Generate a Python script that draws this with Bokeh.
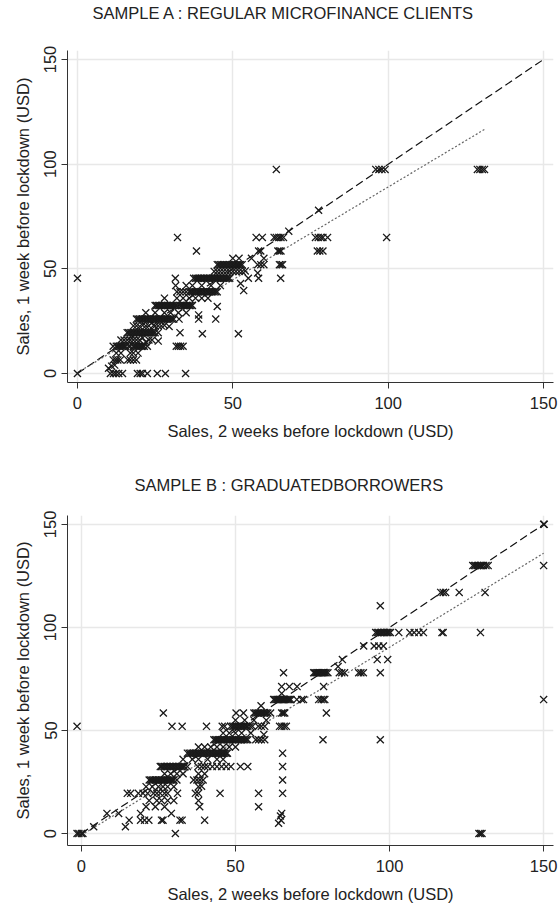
from bokeh.plotting import figure
from bokeh.layouts import column
from bokeh.models import Range1d, FixedTicker, Title
from bokeh.embed import file_html
from bokeh.resources import INLINE

# ---------------- data ----------------
a_pts = [
    (0, 0), (10.6, 0), (11.6, 0), (12.4, 0), (13.3, 0), (14.5, 0), (19.3, 0), (20.2, 0), (20.9, 0),
    (22.5, 0), (25.7, 0), (28.3, 0), (34.8, 0),
    (10, 2.5), (11, 3.5), (12, 4),
    (11.5, 6.5), (12.3, 6.5), (13, 6.5), (13.8, 6.5), (16.2, 6.5), (17, 6.5), (18, 6.5), (19, 6.5),
    (12.5, 9.75), (14, 9.75), (17, 9.75), (18, 9.75), (19.5, 9.75),
    (11.5, 13), (12.5, 13), (13, 13), (14, 13), (15, 13), (16.5, 13), (18, 13), (19, 13), (19.5, 13),
    (20.5, 13), (21.5, 13), (22.5, 13), (31.8, 13), (32.5, 13), (33.2, 13), (34, 13),
    (13.5, 13), (14.5, 13), (15.5, 13), (17, 13), (18.5, 13), (20, 13), (21, 13),
    (14, 16), (17, 16), (20, 16), (21, 17), (24, 16), (26, 15.5), (22, 15),
    (15, 16), (16, 16), (18, 16), (19, 16), (23, 16),
    (16, 19.5), (17, 19.5), (18, 19.5), (19, 19.5), (19.5, 19.5), (20, 19.5), (21, 19.5), (22, 19.5),
    (23, 19.5), (24, 19.5), (25, 19.5), (26, 19.5), (33, 19.5), (40.2, 19), (51.8, 19),
    (16.5, 19.5), (17.5, 19.5), (18.5, 19.5), (20.5, 19.5), (21.5, 19.5), (22.5, 19.5),
    (23.5, 19.5), (24.5, 19.5),
    (18, 22.75), (20, 22.5), (21, 23), (23, 22.75), (24.5, 23), (26, 22.75), (28, 23), (29.5, 22.5),
    (19, 22.75), (22, 22.75), (25, 22.75), (27, 22.75),
    (19, 26), (20, 26), (21, 26), (22, 26), (23, 26), (24, 26), (25, 26), (26, 26), (26.5, 26),
    (27, 26), (28, 26), (29, 26), (30, 26), (31, 26), (32.7, 26), (39, 26), (44.5, 26),
    (19.5, 26), (20.5, 26), (21.5, 26), (22.5, 26), (23.5, 26), (24.5, 26), (25.5, 26),
    (27.5, 26), (28.5, 26), (29.5, 26), (30.5, 26),
    (22, 29), (25, 29), (28, 29), (30, 29), (32.5, 29), (35, 29), (39, 28),
    (25, 32.5), (26, 32.5), (27.5, 32.5), (28.5, 32.5), (29.5, 32.5), (30, 32.5), (30.5, 32.5),
    (31, 32.5), (31.5, 32.5), (32, 32.5), (33, 32.5), (33.5, 32.5), (34, 32.5), (35, 32.5),
    (36, 32.5), (37, 32.5), (45, 32),
    (25.5, 32.5), (26.5, 32.5), (27, 32.5), (28, 32.5), (29, 32.5), (34.5, 32.5), (35.5, 32.5),
    (36.5, 32.5),
    (28, 36), (32, 36), (34, 36), (36, 36), (38, 36), (40, 36), (42, 36),
    (32, 39), (34, 39), (36, 39), (37, 39), (38, 39), (39, 39), (40, 39), (41, 39), (42, 39),
    (43, 39), (44, 39), (45, 39), (53.5, 39.6),
    (33, 39), (35, 39), (36.5, 39), (37.5, 39), (38.5, 39), (39.5, 39), (40.5, 39), (41.5, 39),
    (42.5, 39), (43.5, 39), (44.5, 39),
    (31.6, 42), (35, 42), (37, 42), (40, 42), (43, 42), (46, 42), (52.5, 43),
    (0, 45.5), (31.5, 45.5), (37.4, 45.5), (38, 45.5), (39, 45.5), (40, 45.5), (41, 45.5),
    (42, 45.5), (43, 45.5), (44, 45.5), (45, 45.5), (46, 45.5), (47, 45.5), (48, 45.5),
    (49, 45.5), (55, 45.5), (58.3, 45.5), (65.4, 45.5),
    (38.5, 45.5), (39.5, 45.5), (40.5, 45.5), (41.5, 45.5), (42.5, 45.5), (43.5, 45.5),
    (44.5, 45.5), (45.5, 45.5), (46.5, 45.5), (47.5, 45.5), (48.5, 45.5),
    (44, 48.75), (46, 48.75), (48, 48.75), (50, 48.75), (52, 48.75), (54, 49), (58, 48),
    (45, 48.75), (47, 48.75), (49, 48.75), (51, 48.75), (53, 48.75),
    (45, 52), (46, 52), (47, 52), (48, 52), (49, 52), (50, 52), (50.5, 52), (51, 52), (51.5, 52),
    (52, 52), (52.5, 52), (53, 52), (58, 52), (59, 52), (60, 52), (65, 52), (65.5, 52), (66, 52),
    (45.5, 52), (46.5, 52), (47.5, 52), (48.5, 52), (49.5, 52),
    (50, 55), (52, 55), (56, 55), (60, 55),
    (38.3, 58.5), (58.3, 58.5), (59, 58.5), (64.5, 58.5), (65, 58.5), (65.5, 58.5),
    (77.2, 58.5), (78, 58.5), (79, 58.5),
    (32.2, 65), (57.5, 65), (59.5, 65), (63.3, 65), (64, 65), (64.8, 65), (65.5, 65), (66.3, 65),
    (76.6, 65), (77.5, 65), (78.3, 65), (79, 65), (80.5, 65), (99.5, 65),
    (68, 68), (77.6, 78),
    (64, 97.5), (96, 97.5), (97, 97.5), (98, 97.5), (99, 97.5),
    (128.7, 97.5), (129.5, 97.5), (130.3, 97.5), (131, 97.5),
]

b_pts = [
    (-1.4, 0), (-0.8, 0), (0, 0), (0.5, 0), (30.5, 0), (129, 0), (129.5, 0), (130, 0),
    (4, 3.3), (14.3, 3.3),
    (15.5, 6.5), (19.2, 6.5), (20.5, 6.5), (21.9, 6.5), (26, 6.5), (26.5, 6.5), (32, 6.5),
    (32.7, 6.5), (40, 6.5), (64, 5), (64.8, 6.5),
    (8.3, 9.75), (12.1, 9.75), (19.2, 9.75), (29.2, 9.75), (64.6, 8.5), (65, 9.75),
    (21, 13), (24, 13), (27, 13), (38.4, 13), (57.5, 13),
    (22, 16), (24.5, 16), (26, 16), (28, 16), (30, 16), (38, 16),
    (14.9, 19.5), (16, 19.5), (18.5, 19.5), (20, 19.5), (21.5, 19.5), (23.4, 19.5), (24.5, 19.5),
    (25.6, 19.5), (27, 19.5), (28, 19.5), (31.2, 19.5), (37, 19.5), (38, 19.5), (45, 19.5),
    (57.5, 19.5), (65.3, 19.5),
    (21, 22.75), (23, 22.75), (25, 22.75), (26.5, 22.75), (28, 22.75), (30, 22.75), (38, 22.75),
    (39, 23),
    (22, 26), (23, 26), (24, 26), (25, 26), (26, 26), (27, 26), (28, 26), (29, 26), (30, 26),
    (31, 26), (36.4, 26), (37.5, 26), (38.5, 26), (39.5, 26), (65.3, 26),
    (22.5, 26), (23.5, 26), (24.5, 26), (25.5, 26), (26.5, 26), (27.5, 26), (28.5, 26), (29.5, 26),
    (27, 29), (29, 29), (31, 29), (33, 29), (38, 29), (40, 29),
    (25.6, 32.5), (27, 32.5), (28, 32.5), (29, 32.5), (30, 32.5), (31, 32.5), (32, 32.5),
    (33, 32.5), (34.4, 32.5), (37.8, 32.5), (39, 32.5), (40, 32.5), (41, 32.5), (42.5, 32.5),
    (44, 32.5), (45.5, 32.5), (47, 32.5), (48.5, 32.5), (51.6, 32.5), (54, 32.5), (65.3, 32.5),
    (26, 32.5), (26.5, 32.5), (27.5, 32.5), (28.5, 32.5), (29.5, 32.5), (30.5, 32.5),
    (31.5, 32.5), (32.5, 32.5), (33.5, 32.5),
    (33, 36), (36, 36), (38, 36), (41, 36), (44, 36), (46, 36),
    (34.4, 39), (35.5, 39), (36.5, 39), (37.5, 39), (38.5, 39), (39.5, 39), (40.5, 39),
    (41.5, 39), (42.5, 39), (43.5, 39), (44.5, 39), (45.5, 39), (46.5, 39), (47.4, 39), (65.3, 39),
    (35, 39), (36, 39), (37, 39), (38, 39), (39, 39), (40, 39), (41, 39), (42, 39), (43, 39),
    (44, 39), (45, 39), (46, 39), (47, 39),
    (38, 42), (40, 42), (42, 42), (44, 42), (46, 42), (48, 42), (50, 42),
    (43, 45.5), (44, 45.5), (45, 45.5), (46, 45.5), (47, 45.5), (48, 45.5), (49, 45.5),
    (50, 45.5), (51, 45.5), (52, 45.5), (53, 45.5), (54, 45.5), (56.6, 45.5), (57.5, 45.5),
    (58.4, 45.5), (59.5, 45.5), (78.4, 45.5), (97, 45.5),
    (43.5, 45.5), (44.5, 45.5), (45.5, 45.5), (46.5, 45.5), (47.5, 45.5), (48.5, 45.5),
    (49.5, 45.5), (50.5, 45.5), (51.5, 45.5), (52.5, 45.5), (53.5, 45.5),
    (46, 48.75), (48, 48.75), (50, 48.75), (52, 48.75), (55, 48.75), (59.2, 48),
    (-1.4, 52), (29.4, 52), (32.7, 52), (40.6, 52), (46.5, 52), (45.7, 52), (48.4, 52),
    (49.5, 52), (50.5, 52), (51.5, 52), (52.5, 52), (53.5, 52), (54.8, 52), (55.5, 52),
    (57.4, 52), (58.4, 52), (59.5, 52), (64.3, 52), (65, 52), (65.8, 52), (66.5, 52),
    (49, 52), (50, 52), (51, 52), (52, 52), (53, 52), (54, 52),
    (50, 55), (53, 55), (56, 55), (60, 55),
    (26.6, 58.5), (50.2, 58.5), (52.6, 58.5), (56, 58.5), (57, 58.5), (58, 58.5), (59, 58.5),
    (60, 58.5), (61.4, 58.5), (65, 58.5), (65.5, 58.5), (66, 58.5), (79.5, 58.5),
    (56.5, 58.5), (57.5, 58.5), (58.5, 58.5), (59.5, 58.5), (60.5, 58.5),
    (58.3, 62),
    (62.4, 65), (63.2, 65), (64, 65), (64.8, 65), (65.6, 65), (66.4, 65), (67.2, 65), (68, 65),
    (69.9, 65), (71.5, 65), (72.1, 65), (77, 65), (77.8, 65), (78.5, 65), (79, 65), (150, 65),
    (62.8, 65), (63.6, 65), (64.4, 65), (65.2, 65), (66, 65), (66.8, 65), (67.6, 65),
    (65, 68), (65, 71.3), (67.5, 71.3), (70, 71.3), (78.6, 71.3),
    (65.6, 78), (75.4, 78), (76.2, 78), (77, 78), (77.8, 78), (78.6, 78), (79.4, 78), (80, 78),
    (83.7, 78), (84.5, 78), (85.4, 78), (90, 78), (90.7, 78), (91.5, 78), (97, 78),
    (75.8, 78), (76.6, 78), (77.4, 78), (78.2, 78), (79, 78),
    (83.3, 81), (84.7, 84.4), (96, 84.4), (99.4, 84.4),
    (91.6, 91), (95, 91), (96.5, 91), (98, 91),
    (95.5, 97.5), (96.5, 97.5), (97.5, 97.5), (98.5, 97.5), (99.3, 97.5), (100.3, 97.5),
    (103, 97.5), (106.6, 97.5), (108, 97.5), (109.5, 97.5), (111, 97.5), (117, 97.5),
    (117.4, 97.5), (129.5, 97.5),
    (96, 97.5), (97, 97.5), (98, 97.5), (99, 97.5), (99.8, 97.5),
    (97, 110.5),
    (116.6, 117), (117.4, 117), (118.2, 117), (122.6, 117), (131, 117),
    (127, 130), (128, 130), (129, 130), (129.8, 130), (130.5, 130), (131.3, 130), (132, 130),
    (127.5, 130), (128.5, 130), (129.5, 130),
    (150, 130),
    (150, 150), (150.2, 150),
]

a_x = [p[0] for p in a_pts]
a_y = [p[1] for p in a_pts]
b_x = [p[0] for p in b_pts]
b_y = [p[1] for p in b_pts]

# 45-degree reference line and fitted lines
a_diag_x = [0, 150]
a_diag_y = [0, 150]
a_fit_x = [0, 131]
a_fit_y = [0.4, 116.6]
b_diag_x = [0, 150]
b_diag_y = [0, 150]
b_fit_x = [0, 150]
b_fit_y = [-0.8, 136]

ticks = [0, 50, 100, 150]
titles = ["SAMPLE A : REGULAR MICROFINANCE CLIENTS", "SAMPLE B : GRADUATEDBORROWERS"]
x_label = "Sales, 2 weeks before lockdown (USD)"
y_label = "Sales, 1 week before lockdown (USD)"

FONT = "Liberation Sans"
TXT = "#222222"
FS = "16.5px"


def make(title, xs, ys, dx, dy, fx, fy, xr, yr, height, top, bottom, offset, gap):
    p = figure(width=560, height=height, output_backend="svg", toolbar_location=None,
               title=None,
               x_range=Range1d(*xr), y_range=Range1d(*yr),
               min_border_left=67, min_border_right=7,
               min_border_top=top, min_border_bottom=bottom)
    # spacer between frame and title (first added = closest to frame)
    p.add_layout(Title(text=" ", text_font_size="1px", standoff=gap), "above")
    p.add_layout(Title(text=title, align="left", offset=offset, standoff=0,
                       vertical_align="bottom", text_font=FONT, text_font_size=FS,
                       text_font_style="normal", text_color=TXT), "above")
    p.outline_line_color = None
    p.background_fill_color = "white"
    for g in (p.xgrid, p.ygrid):
        g.ticker = FixedTicker(ticks=ticks)
        g.grid_line_color = "#e8e8e8"
        g.grid_line_width = 1.5
    for ax in (p.xaxis, p.yaxis):
        ax.ticker = FixedTicker(ticks=ticks)
        ax.minor_tick_line_color = None
        ax.major_tick_out = 6
        ax.major_tick_in = 0
        ax.axis_line_color = "#333333"
        ax.major_tick_line_color = "#333333"
        ax.major_label_text_font = FONT
        ax.major_label_text_font_size = FS
        ax.major_label_text_color = TXT
        ax.axis_label_text_font = FONT
        ax.axis_label_text_font_size = FS
        ax.axis_label_text_font_style = "normal"
        ax.axis_label_text_color = TXT
    p.xaxis.axis_label = x_label
    p.yaxis.axis_label = y_label
    p.xaxis.major_label_standoff = 8
    p.xaxis.axis_label_standoff = 10
    p.yaxis.major_label_orientation = "vertical"
    p.yaxis.major_label_standoff = 5
    p.yaxis.axis_label_standoff = 10

    p.line(dx, dy, line_color="#111111", line_width=1.2, line_dash="8 4")
    p.line(fx, fy, line_color="#666666", line_width=1.2, line_dash="2 2")
    p.scatter(xs, ys, marker="x", size=10, line_color="#1a1a1a", line_width=1.3)
    return p


p1 = make(titles[0], a_x, a_y, a_diag_x, a_diag_y, a_fit_x, a_fit_y,
          (-3.2, 153.2), (-4.3, 154.3), 452, 50, 70, 25, 26)
p2 = make(titles[1], b_x, b_y, b_diag_x, b_diag_y, b_fit_x, b_fit_y,
          (-4.5, 153.2), (-5.8, 154.3), 453, 63, 58, 67, 19)

layout = column(p1, p2, spacing=0)
open("out.html", "w").write(file_html(layout, INLINE))
